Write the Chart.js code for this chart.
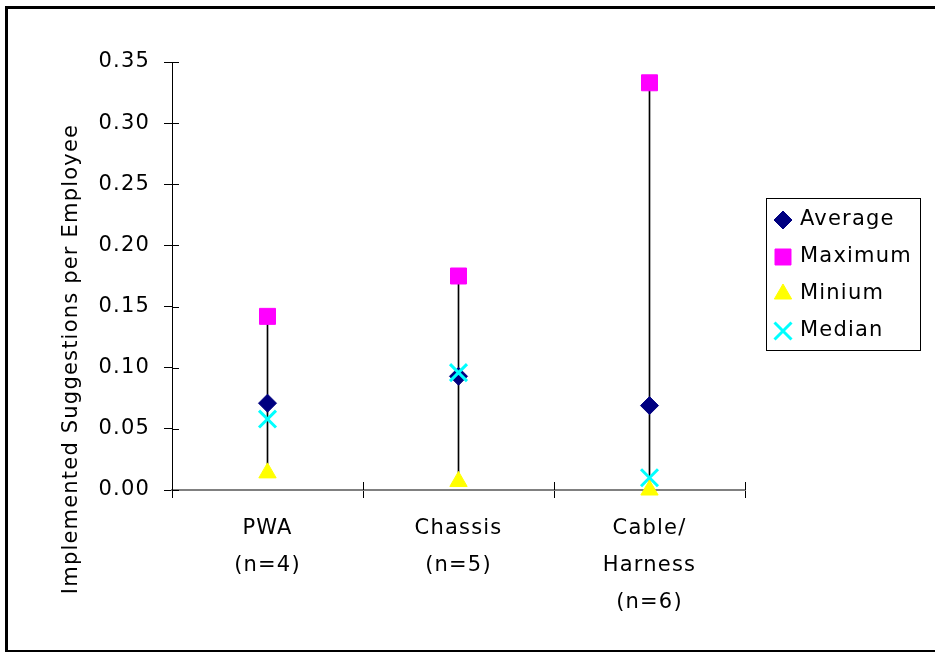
<!DOCTYPE html>
<html>
<head>
<meta charset="utf-8">
<title>Implemented Suggestions per Employee</title>
<script src="https://cdn.jsdelivr.net/npm/chart.js@4.4.0/dist/chart.umd.min.js"></script>
<style>
    html, body { margin: 0; padding: 0; background: #fff; overflow: hidden; }
    #frame { position: absolute; left: 5px; top: 6px; width: 1000px; height: 641px; border: 3px solid #000; }
    #wrap { position: absolute; left: 0; top: 0; width: 935px; height: 652px; }
</style>
</head>
<body>
<div id="frame"></div>
<div id="wrap"><canvas id="chart" width="935" height="652"></canvas></div>
<script>
// 数据
const categories = [['PWA', '(n=4)'], ['Chassis', '(n=5)'], ['Cable/', 'Harness', '(n=6)']];
const averageVals = [0.071, 0.093, 0.069];
const maximumVals = [0.142, 0.175, 0.333];
const minimumVals = [0.014, 0.007, 0.0];
const medianVals = [0.058, 0.096, 0.010];
const yMin = 0;
const yMax = 0.35;
const yStep = 0.05;
const yTitle = 'Implemented Suggestions per Employee';

// 高低线: min -> max
const rangeVals = categories.map((_, i) => [minimumVals[i], maximumVals[i]]);

const FONT = '"DejaVu Sans", Verdana, sans-serif';
const FONT_SIZE = 21;
const LETTER_SPACING = '1.2px';
Chart.defaults.font.family = FONT;
Chart.defaults.font.size = FONT_SIZE;
Chart.defaults.color = '#000';

// Verdana 比 DejaVu 宽一点, 加字距
const spacing = {
    id: 'spacing',
    beforeUpdate(chart) { chart.ctx.letterSpacing = LETTER_SPACING; },
    beforeDraw(chart) { chart.ctx.letterSpacing = LETTER_SPACING; },
};

// 内侧刻度, 纵轴标题, 图例
const extras = {
    id: 'extras',
    afterDraw(chart) {
        const ctx = chart.ctx;
        const xs = chart.scales.x;
        const ys = chart.scales.y;
        const area = chart.chartArea;

        ctx.save();
        ctx.strokeStyle = '#000';
        ctx.lineWidth = 1;
        ctx.beginPath();
        ys.ticks.forEach((_, i) => {
            const y = Math.round(ys.getPixelForTick(i)) + 0.5;
            ctx.moveTo(area.left, y);
            ctx.lineTo(area.left + 7, y);
        });
        const n = chart.data.labels.length;
        for (let i = 0; i <= n; i++) {
            const x = Math.round(xs.left + i * xs.width / n) + 0.5;
            ctx.moveTo(x, area.bottom);
            ctx.lineTo(x, area.bottom - 8);
        }
        ctx.stroke();

        // 纵轴标题
        ctx.fillStyle = '#000';
        ctx.font = FONT_SIZE + 'px ' + FONT;
        ctx.letterSpacing = LETTER_SPACING;
        ctx.translate(area.left - 100, area.bottom - 131);
        ctx.rotate(-Math.PI / 2);
        ctx.textAlign = 'center';
        ctx.textBaseline = 'middle';
        ctx.fillText(yTitle, 0, 0);
        ctx.restore();

        // 图例
        const lx = 766, ly = 198, lw = 154, lh = 152;
        ctx.save();
        ctx.strokeStyle = '#000';
        ctx.lineWidth = 1;
        ctx.strokeRect(lx + 0.5, ly + 0.5, lw, lh);
        ctx.font = FONT_SIZE + 'px ' + FONT;
        ctx.letterSpacing = LETTER_SPACING;
        ctx.textAlign = 'left';
        ctx.textBaseline = 'middle';
        let row = 0;
        chart.data.datasets.forEach(ds => {
            if (ds.type === 'bar') return;
            const y = ly + 22 + row * 37;
            ctx.fillStyle = ds.pointBackgroundColor;
            ctx.strokeStyle = ds.pointBorderColor;
            ctx.lineWidth = ds.pointBorderWidth;
            Chart.helpers.drawPoint(ctx, {
                pointStyle: ds.pointStyle,
                radius: ds.pointRadius,
                rotation: 0,
                borderWidth: ds.pointBorderWidth,
            }, lx + 17, y);
            ctx.fillStyle = '#000';
            ctx.fillText(ds.label, lx + 34, y);
            row++;
        });
        ctx.restore();
    },
};

new Chart(document.getElementById('chart'), {
    type: 'line',
    data: {
        labels: categories,
        datasets: [
            {
                label: 'Average',
                data: averageVals,
                showLine: false,
                clip: false,
                pointStyle: 'rectRot',
                pointRadius: 9,
                pointHoverRadius: 9,
                pointBackgroundColor: '#000080',
                pointBorderColor: '#000080',
                pointBorderWidth: 1,
                order: 4,
            },
            {
                label: 'Maximum',
                data: maximumVals,
                showLine: false,
                clip: false,
                pointStyle: 'rect',
                pointRadius: 11.3,
                pointHoverRadius: 11.3,
                pointBackgroundColor: '#FF00FF',
                pointBorderColor: '#FF00FF',
                pointBorderWidth: 1,
                order: 3,
            },
            {
                label: 'Minium',
                data: minimumVals,
                showLine: false,
                clip: false,
                pointStyle: 'triangle',
                pointRadius: 10,
                pointHoverRadius: 10,
                pointBackgroundColor: '#FFFF00',
                pointBorderColor: '#FFFF00',
                pointBorderWidth: 1,
                order: 1,
            },
            {
                label: 'Median',
                data: medianVals,
                showLine: false,
                clip: false,
                pointStyle: 'crossRot',
                pointRadius: 12,
                pointHoverRadius: 12,
                pointBackgroundColor: '#00FFFF',
                pointBorderColor: '#00FFFF',
                pointBorderWidth: 3,
                order: 2,
            },
            {
                type: 'bar',
                label: '',
                data: rangeVals,
                backgroundColor: '#000',
                borderWidth: 0,
                barThickness: 1,
                order: 10,
            },
        ],
    },
    options: {
        responsive: false,
        animation: false,
        layout: { padding: { left: 0, top: 62, right: 190, bottom: 19 } },
        plugins: {
            legend: { display: false },
            tooltip: { enabled: false },
        },
        scales: {
            x: {
                offset: true,
                grid: { offset: true, drawOnChartArea: false, color: '#000', tickLength: 8 },
                border: { color: '#808080', width: 2 },
                ticks: {
                    color: '#000',
                    padding: 12,
                    maxRotation: 0,
                    autoSkip: false,
                    font: { size: FONT_SIZE, lineHeight: 37 / FONT_SIZE },
                },
            },
            y: {
                min: yMin,
                max: yMax,
                grid: { drawOnChartArea: false, color: '#000', tickLength: 8 },
                border: { color: '#000', width: 1 },
                ticks: {
                    stepSize: yStep,
                    padding: 14,
                    color: '#000',
                    callback: v => v.toFixed(2),
                },
                afterFit(scale) { scale.width = 172; },
            },
        },
    },
    plugins: [spacing, extras],
});
</script>
</body>
</html>
